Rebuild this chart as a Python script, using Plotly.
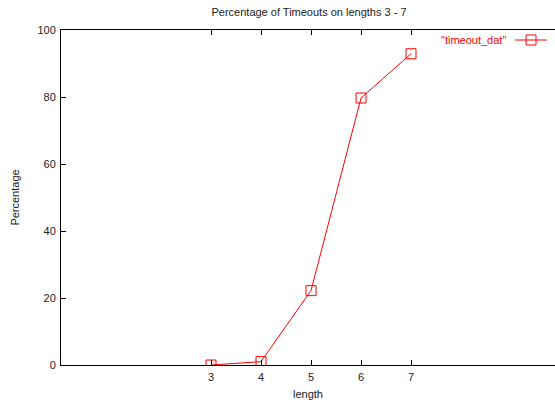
import plotly.graph_objects as go

# Timeout percentages per length
lengths = [3, 4, 5, 6, 7]
timeout_pct = [0.0, 1.0, 22.2, 79.7, 92.9]
x_ticks = [3, 4, 5, 6, 7]
y_ticks = [0, 20, 40, 60, 80, 100]
series_name = '"timeout_dat"'

RED = "#ff0000"
FONT = "Liberation Sans, Arial, sans-serif"

fig = go.Figure()
fig.add_trace(go.Scatter(
    x=lengths, y=timeout_pct, mode="lines+markers",
    line=dict(color=RED, width=1),
    marker=dict(symbol="square-open", size=10, color=RED, line=dict(width=1, color=RED)),
    showlegend=False, hoverinfo="x+y",
))

# Key: label followed by a line sample with the point symbol
fig.add_annotation(xref="paper", yref="paper", x=(508 - 61) / 494, y=(365 - 40) / 335,
                   xanchor="right", yanchor="middle", text=series_name, showarrow=False,
                   font=dict(family=FONT, size=11, color=RED))
fig.add_shape(type="line", xref="paper", yref="paper",
              x0=(515 - 61) / 494, x1=(547 - 61) / 494,
              y0=(365 - 40) / 335, y1=(365 - 40) / 335,
              line=dict(color=RED, width=1))
fig.add_shape(type="rect", xref="paper", yref="paper",
              x0=(526 - 61) / 494, x1=(536 - 61) / 494,
              y0=(365 - 45) / 335, y1=(365 - 35) / 335,
              line=dict(color=RED, width=1))

fig.update_layout(
    width=555, height=405,
    margin=dict(l=61, r=0, t=30, b=40),
    paper_bgcolor="white", plot_bgcolor="white",
    font=dict(family=FONT, size=11, color="#222"),
    title=dict(text="Percentage of Timeouts on lengths 3 - 7", x=(309) / 555, xanchor="center",
               y=1 - 12 / 405, yanchor="middle", font=dict(size=11, color="#222")),
    xaxis=dict(range=[0, 494 / 50], tickvals=x_ticks, ticks="inside", ticklen=5,
               tickcolor="black", showline=True, linecolor="black", linewidth=1,
               mirror="ticks", showgrid=False, zeroline=False, ticklabelstandoff=2,
               title=dict(text="length", standoff=8, font=dict(size=11))),
    yaxis=dict(range=[0, 100], tickvals=y_ticks, ticks="inside", ticklen=5,
               tickcolor="black", showline=True, linecolor="black", linewidth=1,
               mirror=False, showgrid=False, zeroline=False, ticklabelstandoff=2,
               title=dict(text="Percentage", standoff=15, font=dict(size=11))),
)

fig.write_html("out.html")
